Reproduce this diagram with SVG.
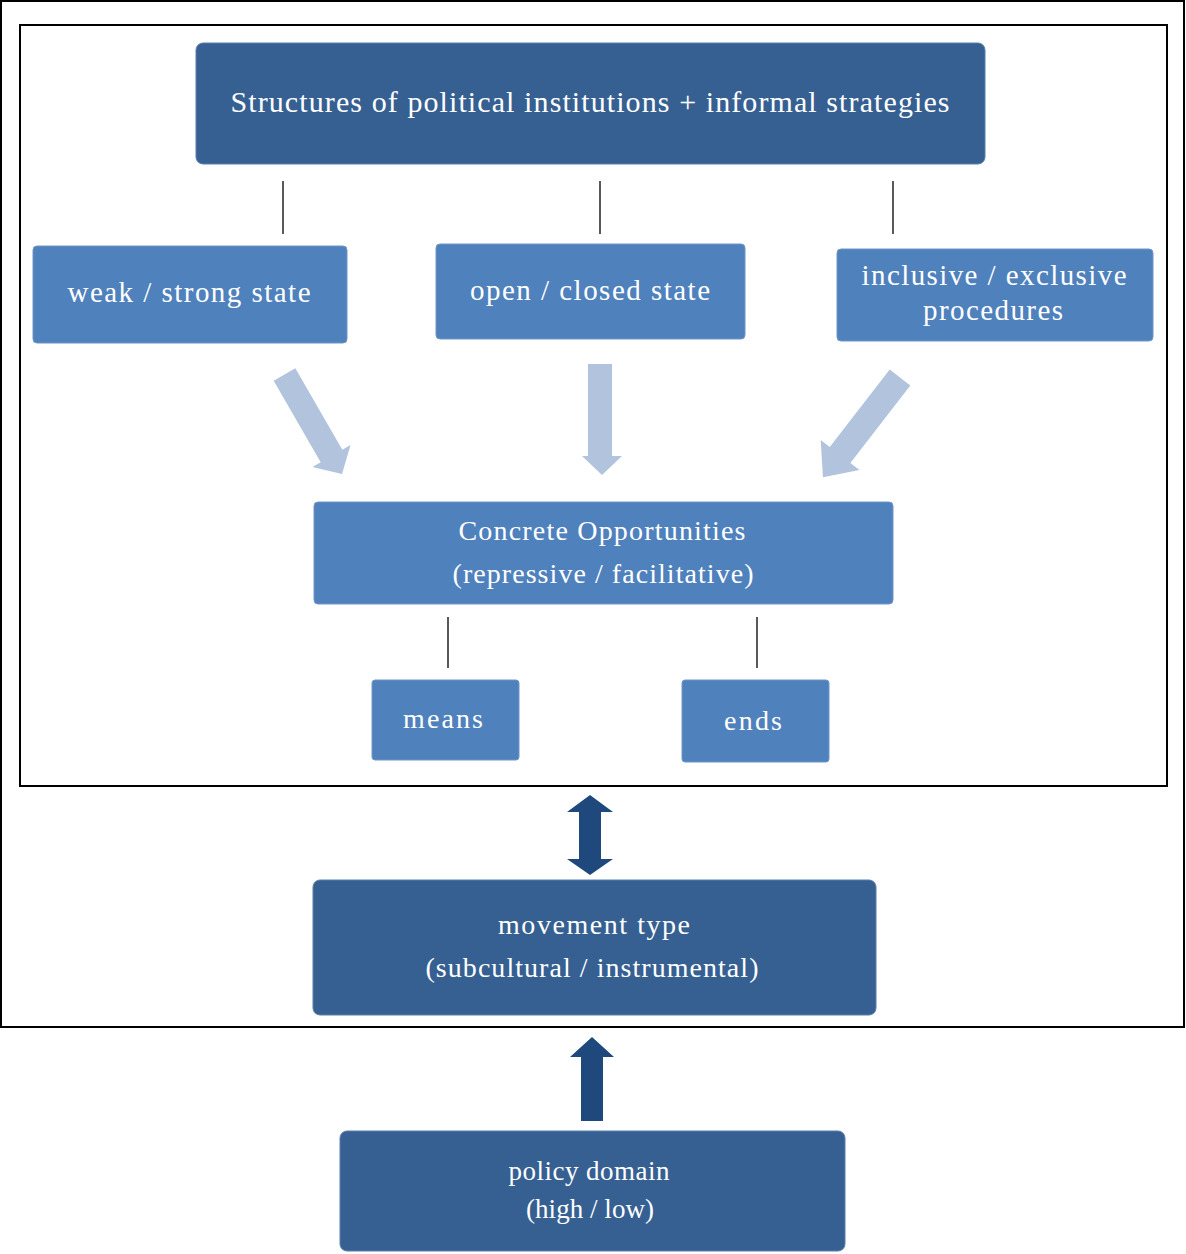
<svg xmlns="http://www.w3.org/2000/svg" width="1186" height="1254" viewBox="0 0 1186 1254">
<style>
.dark{fill:#366092;stroke:#5a7fab;stroke-width:1}
.mid{fill:#4F81BD;stroke:#6f97c8;stroke-width:1}
.t{font-family:"Liberation Serif","DejaVu Serif",serif;fill:#ffffff;text-anchor:middle}
.frame{fill:none;stroke:#000;stroke-width:2}
.tick{stroke:#222;stroke-width:1.5}
.light{fill:#B2C3DE}
.navy{fill:#1F497D}
</style>
<rect width="1186" height="1254" fill="#ffffff"/>
<rect class="frame" x="1" y="1" width="1183" height="1026"/>
<rect class="frame" x="20" y="25" width="1147" height="761"/>

<g id="connectors">
<line class="tick" x1="283" y1="181" x2="283" y2="234"/>
<line class="tick" x1="600" y1="181" x2="600" y2="234"/>
<line class="tick" x1="893" y1="181" x2="893" y2="234"/>
<line class="tick" x1="448" y1="617" x2="448" y2="668"/>
<line class="tick" x1="757" y1="617" x2="757" y2="668"/>
<polygon class="light" transform="translate(284.5,374.5) rotate(-30)" points="-12.5,0 12.5,0 12.5,94 22,94 0,115 -22,94 -12.5,94"/>
<polygon class="light" points="588,364 612,364 612,456 622,456 602,475 582,456 588,456"/>
<polygon class="light" transform="translate(900,377.5) rotate(37.7)" points="-13,0 13,0 13,98 24.5,98 0,126 -24.5,98 -13,98"/>
<polygon class="navy" points="590,795 613,812 601,812 601,859 613,859 590,875 567,859 579,859 579,812 567,812"/>
<polygon class="navy" points="592,1037 614,1057 603,1057 603,1121 581,1121 581,1057 570,1057"/>
</g>

<g id="n-structures">
<rect class="dark" x="196" y="43" width="789" height="121" rx="7"/>
<text class="t" x="590" y="112" font-size="30" textLength="719" lengthAdjust="spacing">Structures of political institutions + informal strategies</text>
</g>
<g id="n-weak">
<rect class="mid" x="33" y="246" width="314" height="97" rx="4"/>
<text class="t" x="189" y="302" font-size="29" textLength="243" lengthAdjust="spacing">weak / strong state</text>
</g>
<g id="n-open">
<rect class="mid" x="436" y="244" width="309" height="95" rx="4"/>
<text class="t" x="590" y="300" font-size="29" textLength="240" lengthAdjust="spacing">open / closed state</text>
</g>
<g id="n-inclusive">
<rect class="mid" x="837" y="249" width="316" height="92" rx="4"/>
<text class="t" x="994" y="285" font-size="29" textLength="265" lengthAdjust="spacing">inclusive / exclusive</text>
<text class="t" x="993" y="320" font-size="29" textLength="140" lengthAdjust="spacing">procedures</text>
</g>
<g id="n-concrete">
<rect class="mid" x="314" y="502" width="579" height="102" rx="4"/>
<text class="t" x="602" y="540" font-size="28" textLength="287" lengthAdjust="spacing">Concrete Opportunities</text>
<text class="t" x="603" y="583" font-size="28" textLength="301" lengthAdjust="spacing">(repressive / facilitative)</text>
</g>
<g id="n-means">
<rect class="mid" x="372" y="680" width="147" height="80" rx="3"/>
<text class="t" x="443" y="728" font-size="28" textLength="80" lengthAdjust="spacing">means</text>
</g>
<g id="n-ends">
<rect class="mid" x="682" y="680" width="147" height="82" rx="3"/>
<text class="t" x="753" y="730" font-size="28" textLength="58" lengthAdjust="spacing">ends</text>
</g>
<g id="n-movement">
<rect class="dark" x="313" y="880" width="563" height="135" rx="7"/>
<text class="t" x="594" y="934" font-size="28" textLength="192" lengthAdjust="spacing">movement type</text>
<text class="t" x="592" y="977" font-size="28" textLength="333" lengthAdjust="spacing">(subcultural / instrumental)</text>
</g>
<g id="n-policy">
<rect class="dark" x="340" y="1131" width="505" height="120" rx="7"/>
<text class="t" x="589" y="1180" font-size="27" textLength="161" lengthAdjust="spacing">policy domain</text>
<text class="t" x="590" y="1218" font-size="27" textLength="128" lengthAdjust="spacing">(high / low)</text>
</g>
</svg>
